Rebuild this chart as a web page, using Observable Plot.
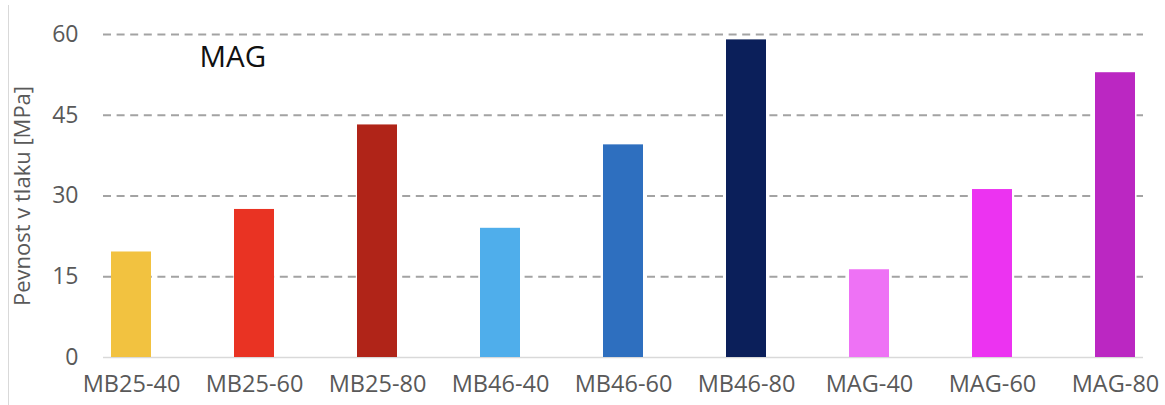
<!DOCTYPE html>
<html>
<head>
<meta charset="utf-8">
<script src="https://cdn.jsdelivr.net/npm/d3@7"></script>
<script src="https://cdn.jsdelivr.net/npm/@observablehq/plot@0.6"></script>
<style>
  html, body { margin: 0; padding: 0; background: #fff; }
  #wrap { position: relative; width: 1165px; height: 405px; }
  #border { position: absolute; left: 8px; top: 5px; bottom: 0; border-left: 1.5px solid #d9d9d9; }
</style>
</head>
<body>
<div id="wrap"><div id="border"></div></div>
<script>
const categories = ["MB25-40", "MB25-60", "MB25-80", "MB46-40", "MB46-60", "MB46-80", "MAG-40", "MAG-60", "MAG-80"];
const values = [19.6, 27.5, 43.2, 24.0, 39.5, 59.0, 16.3, 31.2, 52.9];
const colors = ["#F2C240", "#E93323", "#B02418", "#4FAEEB", "#2E6FBF", "#0B1F5A", "#EE72F5", "#EC33F1", "#BB27C2"];
const yTicks = [0, 15, 30, 45, 60];
const title = "MAG";
const yLabel = "Pevnost v tlaku [MPa]";

const data = categories.map((c, i) => ({cat: c, value: values[i], color: colors[i]}));

const chart = Plot.plot({
  width: 1165,
  height: 405,
  marginLeft: 103,
  marginRight: 22,
  marginTop: 34,
  marginBottom: 48,
  style: {fontFamily: "'Open Sans', sans-serif", background: "#fff"},
  x: {domain: categories, paddingInner: 0.677, paddingOuter: 0.04, align: 0.5},
  y: {domain: [0, 60]},
  marks: [
    Plot.ruleY(yTicks.filter(d => d > 0), {stroke: "#a3a3a3", strokeWidth: 2, strokeDasharray: "8,5.6"}),
    Plot.ruleY([0], {stroke: "#d9d9d9", strokeWidth: 1.5}),
    Plot.barY(data, {x: "cat", y: "value", fill: "color"}),
    Plot.axisY({ticks: yTicks, tickSize: 0, tickPadding: 25, fontSize: 23, fill: "#595959", label: null}),
    Plot.axisX({tickSize: 0, tickPadding: 18, fontSize: 23.5, fill: "#595959", label: null}),
    Plot.text([yLabel], {frameAnchor: "left", textAnchor: "middle", dx: -81, rotate: -90, fontSize: 22, fill: "#595959"}),
    Plot.text([title], {frameAnchor: "top-left", dx: 96, dy: 12, fontSize: 29.5, fill: "#111", textAnchor: "start", lineAnchor: "top"})
  ]
});
document.getElementById("wrap").appendChild(chart);
</script>
</body>
</html>
